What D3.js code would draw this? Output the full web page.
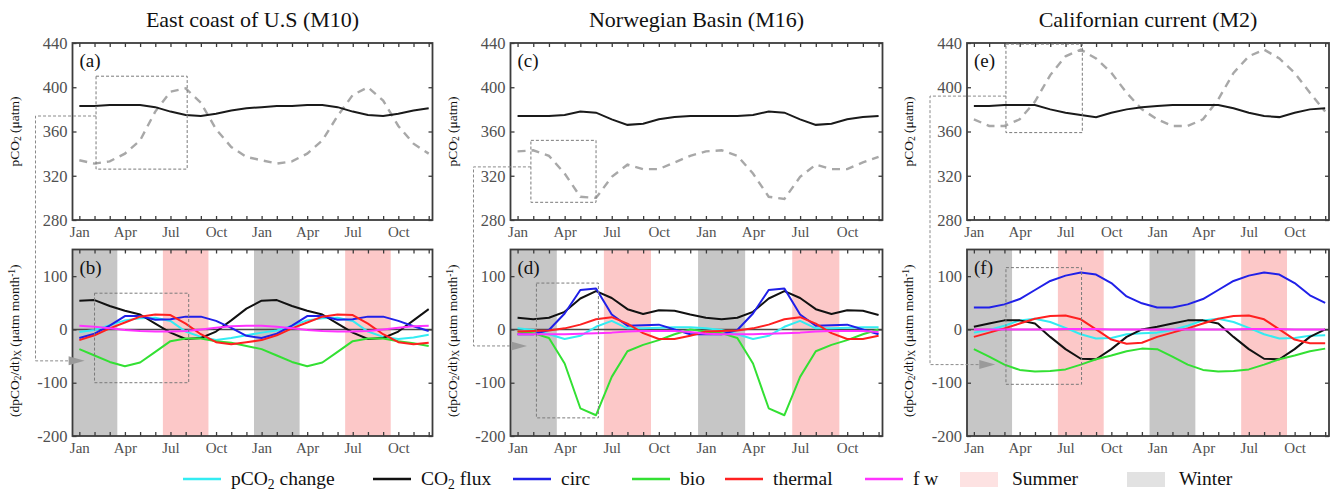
<!DOCTYPE html>
<html>
<head>
<meta charset="utf-8">
<script src="https://cdn.jsdelivr.net/npm/d3@7"></script>
<style>
  body { margin: 0; background: #fff; }
  text { font-family: "Liberation Serif", "Times New Roman", serif; }
</style>
</head>
<body>
<div id="chart"></div>
<script>
// month index 0..23 (two repeated years)
const months = d3.range(24);
const monthTicks = [0, 3, 6, 9, 12, 15, 18, 21];
const monthLabels = ["Jan", "Apr", "Jul", "Oct", "Jan", "Apr", "Jul", "Oct"];
const topTicks = [280, 320, 360, 400, 440];
const botTicks = [-200, -100, 0, 100];

const titles = ["East coast of U.S (M10)", "Norwegian Basin (M16)", "Californian current (M2)"];
const topLetters = ["(a)", "(c)", "(e)"];
const botLetters = ["(b)", "(d)", "(f)"];

// seasons shaded in lower panels (month index spans)
const winterSpans = [[-0.5, 2.5], [11.5, 14.5]];
const summerSpans = [[5.5, 8.5], [17.5, 20.5]];

// upper panels: pCO2 (uatm), solid black and dashed grey
const m10Solid  = [383,383,384,384,384,382,378,375,374,376,379,381, 382,383,383,384,384,382,378,375,374,376,379,381];
const m10Dashed = [334,331,333,340,352,378,396,399,386,362,346,337, 334,331,333,340,352,374,393,400,388,365,349,340];
const m16Solid  = [374,374,374,375,378,377,371,366,367,371,373,374, 374,374,374,375,378,377,371,366,367,371,373,374];
const m16Dashed = [342,343,338,322,301,300,319,330,326,326,332,338, 342,343,338,322,301,299,319,330,326,326,332,337];
const m2Solid   = [383,383,384,384,384,380,377,375,373,377,380,382, 383,384,384,384,384,381,377,374,373,377,380,381];
const m2Dashed  = [371,365,365,371,387,411,428,434,426,413,395,380, 371,365,365,371,389,413,428,434,426,413,395,378];

// lower panels: (dpCO2/dt)_X (uatm month-1)
const m10Change  = [-5,-1,8,17,21,22,16,-4,-14,-20,-16,-11, -6,-2,7,17,21,22,16,-4,-14,-18,-15,-10];
const m10Flux    = [54,55,44,35,28,11,-6,-18,-16,-4,17,39, 54,55,44,35,28,11,-6,-18,-16,-4,17,38];
const m10Circ    = [-16,-8,7,25,25,18,19,24,24,16,3,-12, -16,-8,7,25,25,18,19,24,24,16,6,-3];
const m10Bio     = [-37,-49,-61,-69,-62,-42,-22,-17,-17,-22,-25,-31, -37,-49,-61,-69,-62,-42,-22,-17,-17,-22,-26,-31];
const m10Thermal = [-20,-11,2,13,24,28,27,11,-9,-24,-28,-24, -20,-11,2,13,24,28,27,11,-9,-24,-28,-25];
const m10Fw      = [7,5,2,-1,-3,-4,-4,-3,0,3,6,7, 7,5,2,-1,-3,-4,-4,-3,0,3,6,7];

const m16Change  = [2,-1,-9,-18,-12,5,16,2,2,3,4,4, 2,-1,-9,-18,-12,5,16,2,2,3,4,4];
const m16Flux    = [22,19,22,33,58,72,59,38,29,36,35,28, 22,19,22,33,58,72,59,38,29,36,35,27];
const m16Circ    = [-9,-9,-1,30,74,77,28,7,8,9,0,-9, -9,-9,-1,30,74,77,28,7,8,9,0,-9];
const m16Bio     = [-4,-7,-16,-64,-148,-161,-89,-41,-29,-20,-9,0, -4,-7,-16,-64,-148,-161,-89,-41,-29,-20,-9,0];
const m16Thermal = [-4,-3,-2,2,9,19,23,11,-7,-18,-18,-12, -4,-3,-2,2,9,19,23,11,-7,-18,-18,-12];
const m16Fw      = [-9,-9,-9,-9,-8,-7,-6,-4,-3,-3,-3,-5, -8,-9,-9,-9,-8,-7,-6,-4,-3,-3,-3,-5];

const m2Change  = [-6,-1,7,17,20,14,3,-9,-17,-16,-9,-7, -6,-1,7,17,20,14,3,-9,-17,-16,-12,-11];
const m2Flux    = [5,11,17,17,11,-14,-37,-55,-56,-37,-14,0, 5,11,17,17,11,-14,-37,-55,-56,-37,-14,0];
const m2Circ    = [41,41,47,57,74,91,101,107,103,87,62,49, 41,41,47,57,74,91,101,107,103,87,64,50];
const m2Bio     = [-37,-51,-66,-76,-79,-78,-75,-66,-56,-49,-41,-36, -37,-51,-66,-76,-79,-78,-75,-66,-56,-49,-41,-36];
const m2Thermal = [-14,-6,2,11,20,25,26,19,0,-19,-27,-25, -14,-6,2,11,20,25,26,19,0,-19,-26,-26];
const m2Fw      = [0,0,0,0,0,0,1,1,1,0,0,0, 0,0,0,0,0,0,1,1,1,0,0,0];

// zoom boxes [month0, month1, val0, val1] and connector levels
const topBoxes = [[1.1, 7.1, 326, 410], [0.85, 5.0, 296, 352], [2.1, 7.1, 359, 439]];
const botBoxes = [[1.0, 7.2, -100, 68], [1.2, 5.15, -166, 87], [2.1, 7.05, -103, 116]];
const linkFrom = [374, 328, 392];     // value on upper panel
const linkTo = [-59, -31, -66];       // value on lower panel
const arrowTip = [0.35, 0.6, 1.4];    // month index of arrow tip

const seriesNames = ["pCO2 change", "CO2 flux", "circ", "bio", "thermal", "f w"];
const seriesColors = ["#33ecf2", "#111111", "#2020e8", "#33e033", "#ff2020", "#ff33ff"];

const columns = [
  { solid: m10Solid, dashed: m10Dashed, series: [m10Change, m10Flux, m10Circ, m10Bio, m10Thermal, m10Fw] },
  { solid: m16Solid, dashed: m16Dashed, series: [m16Change, m16Flux, m16Circ, m16Bio, m16Thermal, m16Fw] },
  { solid: m2Solid,  dashed: m2Dashed,  series: [m2Change, m2Flux, m2Circ, m2Bio, m2Thermal, m2Fw] }
];

const width = 1338, height = 491;
const panelX = [[72.5, 432.5], [510.5, 882.5], [967, 1329]];
const topY = [43, 220];
const botY = [249.5, 436];
const AXIS_COLOR = "#3c3c3c";
const LABEL_COLOR = "#505050";
const SERIF = "'Liberation Serif', 'Times New Roman', serif";

let svg = d3.select("#chart").append("svg")
  .attr("width", width)
  .attr("height", height)
  .attr("viewBox", `0 0 ${width} ${height}`);

svg.append("rect").attr("width", width).attr("height", height).attr("fill", "#fff");

let defs = svg.append("defs");
panelX.forEach(function (px, i) {
  defs.append("clipPath").attr("id", "clipTop" + i).append("rect")
    .attr("x", px[0]).attr("y", topY[0]).attr("width", px[1] - px[0]).attr("height", topY[1] - topY[0]);
  defs.append("clipPath").attr("id", "clipBot" + i).append("rect")
    .attr("x", px[0]).attr("y", botY[0]).attr("width", px[1] - px[0]).attr("height", botY[1] - botY[0]);
});

function drawFrame(g, x, y, yTicks) {
  let r = y.range();
  // month ticks on top and bottom, pointing inwards
  g.append("g").attr("transform", `translate(0,${r[0]})`)
    .call(d3.axisBottom(x).tickValues(months).tickSize(-4).tickFormat(""));
  g.append("g").attr("transform", `translate(0,${r[1]})`)
    .call(d3.axisTop(x).tickValues(months).tickSize(-4).tickFormat(""));
  // month labels
  g.append("g").attr("transform", `translate(0,${r[0]})`)
    .attr("font-family", SERIF)
    .call(d3.axisBottom(x).tickValues(monthTicks).tickSize(0).tickPadding(6)
      .tickFormat((d, i) => monthLabels[i]))
    .selectAll("text").attr("font-size", 15).attr("fill", LABEL_COLOR)
    .style("font-family", SERIF);
  // y ticks left (labelled) and right
  g.append("g").attr("transform", `translate(${x.range()[0]},0)`)
    .call(d3.axisLeft(y).tickValues(yTicks).tickSize(-4).tickPadding(5).tickFormat(d => String(d)))
    .selectAll("text").attr("font-size", 16.5).attr("fill", LABEL_COLOR)
    .style("font-family", SERIF);
  g.append("g").attr("transform", `translate(${x.range()[1]},0)`)
    .call(d3.axisRight(y).tickValues(yTicks).tickSize(-4).tickFormat(""));
  g.selectAll("g").attr("font-family", SERIF);
  g.selectAll(".domain").remove();
  g.selectAll(".tick line").attr("stroke", AXIS_COLOR).attr("stroke-width", 1.3);
  g.append("rect")
    .attr("x", x.range()[0]).attr("y", r[1])
    .attr("width", x.range()[1] - x.range()[0]).attr("height", r[0] - r[1])
    .attr("fill", "none").attr("stroke", AXIS_COLOR).attr("stroke-width", 1.8);
}

function subText(sel, parts, size) {
  // parts: [text, "sub"|"sup"|null]
  parts.forEach(function (p) {
    let t = sel.append("tspan").text(p[0]);
    if (p[1] === "sub") t.attr("font-size", size * 0.7).attr("baseline-shift", "-25%");
    else if (p[1] === "sup") t.attr("font-size", size * 0.7).attr("baseline-shift", "40%");
  });
}

columns.forEach(function (col, i) {
  let x = d3.scaleLinear().domain([-0.45, 23.25]).range(panelX[i]);
  let yT = d3.scaleLinear().domain([280, 440]).range([topY[1], topY[0]]);
  let yB = d3.scaleLinear().domain([-200, 150]).range([botY[1], botY[0]]);
  let cx = (panelX[i][0] + panelX[i][1]) / 2;

  svg.append("text").attr("x", cx).attr("y", 27).attr("text-anchor", "middle")
    .attr("font-size", 22).attr("fill", "#111").text(titles[i]);

  // ---- upper panel
  let gT = svg.append("g");
  let plotT = gT.append("g").attr("clip-path", `url(#clipTop${i})`);
  plotT.append("path").datum(col.dashed)
    .attr("d", d3.line().x((d, k) => x(k)).y(d => yT(d)))
    .attr("fill", "none").attr("stroke", "#a8a8a8").attr("stroke-width", 2.4)
    .attr("stroke-dasharray", "8,6");
  plotT.append("path").datum(col.solid)
    .attr("d", d3.line().x((d, k) => x(k)).y(d => yT(d)))
    .attr("fill", "none").attr("stroke", "#1a1a1a").attr("stroke-width", 2);
  drawFrame(gT, x, yT, topTicks);
  gT.append("text").attr("x", panelX[i][0] + 7).attr("y", topY[0] + 24)
    .attr("font-size", 19).attr("fill", "#111").text(topLetters[i]);

  // ---- lower panel
  let gB = svg.append("g");
  let plotB = gB.append("g").attr("clip-path", `url(#clipBot${i})`);
  winterSpans.forEach(function (s) {
    plotB.append("rect").attr("x", x(s[0])).attr("y", botY[0])
      .attr("width", x(s[1]) - x(s[0])).attr("height", botY[1] - botY[0])
      .attr("fill", "#c6c6c6");
  });
  summerSpans.forEach(function (s) {
    plotB.append("rect").attr("x", x(s[0])).attr("y", botY[0])
      .attr("width", x(s[1]) - x(s[0])).attr("height", botY[1] - botY[0])
      .attr("fill", "#fcc8c8");
  });
  plotB.append("line").attr("x1", panelX[i][0]).attr("x2", panelX[i][1])
    .attr("y1", yB(0)).attr("y2", yB(0)).attr("stroke", "#4a4a4a").attr("stroke-width", 1.5);
  col.series.forEach(function (s, k) {
    plotB.append("path").datum(s)
      .attr("d", d3.line().x((d, m) => x(m)).y(d => yB(d)))
      .attr("fill", "none").attr("stroke", seriesColors[k]).attr("stroke-width", 2)
      .attr("stroke-linejoin", "round");
  });
  drawFrame(gB, x, yB, botTicks);
  gB.append("text").attr("x", panelX[i][0] + 7).attr("y", botY[0] + 24)
    .attr("font-size", 19).attr("fill", "#111").text(botLetters[i]);

  // ---- zoom boxes and connector
  let bt = topBoxes[i], bb = botBoxes[i];
  svg.append("rect").attr("x", x(bt[0])).attr("y", yT(bt[3]))
    .attr("width", x(bt[1]) - x(bt[0])).attr("height", yT(bt[2]) - yT(bt[3]))
    .attr("fill", "none").attr("stroke", "#7a7a7a").attr("stroke-width", 1).attr("stroke-dasharray", "3,2");
  svg.append("rect").attr("x", x(bb[0])).attr("y", yB(bb[3]))
    .attr("width", x(bb[1]) - x(bb[0])).attr("height", yB(bb[2]) - yB(bb[3]))
    .attr("fill", "none").attr("stroke", "#7a7a7a").attr("stroke-width", 1).attr("stroke-dasharray", "3,2");
  let lx = panelX[i][0] - 37;
  let tipX = x(arrowTip[i]);
  svg.append("path")
    .attr("d", `M${x(bt[0])},${yT(linkFrom[i])}H${lx}V${yB(linkTo[i])}H${tipX - 15}`)
    .attr("fill", "none").attr("stroke", "#8a8a8a").attr("stroke-width", 1).attr("stroke-dasharray", "3,2");
  svg.append("path")
    .attr("d", `M${tipX},${yB(linkTo[i])}L${tipX - 16},${yB(linkTo[i]) - 4.5}L${tipX - 16},${yB(linkTo[i]) + 4.5}Z`)
    .attr("fill", "#9a9a9a");

  // ---- y axis titles
  let labX = panelX[i][0] - 54;
  let t1 = svg.append("text").attr("transform", `translate(${labX},${(topY[0] + topY[1]) / 2}) rotate(-90)`)
    .attr("text-anchor", "middle").attr("font-size", 13.5).attr("fill", "#111");
  subText(t1, [["pCO"], ["2", "sub"], [" (\u03bcatm)"]], 13.5);
  let t2 = svg.append("text").attr("transform", `translate(${labX},${(botY[0] + botY[1]) / 2 - 2}) rotate(-90)`)
    .attr("text-anchor", "middle").attr("font-size", 13.5).attr("fill", "#111");
  subText(t2, [["(dpCO"], ["2", "sub"], ["/dt)"], ["X", "sub"], [" (\u03bcatm month"], ["-1", "sup"], [")"]], 13.5);
});

// ---- legend
const legendX = [183, 373, 513, 632, 725, 865];
const legendParts = [
  [["pCO"], ["2", "sub"], [" change"]],
  [["CO"], ["2", "sub"], [" flux"]],
  [["circ"]], [["bio"]], [["thermal"]], [["f w"]]
];
let lg = svg.append("g");
legendX.forEach(function (lx, k) {
  lg.append("line").attr("x1", lx).attr("x2", lx + 38).attr("y1", 479).attr("y2", 479)
    .attr("stroke", seriesColors[k]).attr("stroke-width", 2.5);
  let t = lg.append("text").attr("x", lx + 48).attr("y", 485).attr("font-size", 19.5).attr("fill", "#111");
  subText(t, legendParts[k], 19.5);
});
const seasonLegend = [["Summer", "#fde2e2", 960], ["Winter", "#e2e2e2", 1127]];
seasonLegend.forEach(function (s) {
  lg.append("rect").attr("x", s[2]).attr("y", 472).attr("width", 38).attr("height", 15).attr("fill", s[1]);
  lg.append("text").attr("x", s[2] + 52).attr("y", 485).attr("font-size", 19.5).attr("fill", "#111").text(s[0]);
});
</script>
</body>
</html>
